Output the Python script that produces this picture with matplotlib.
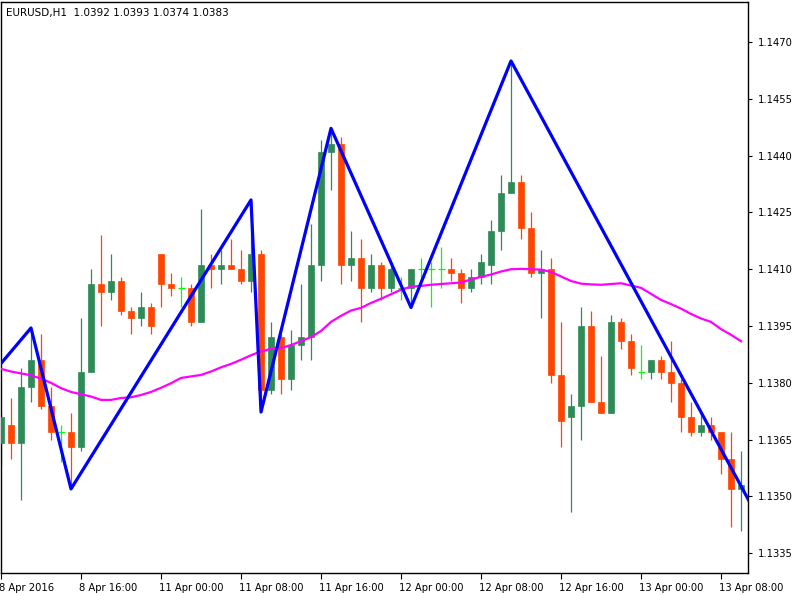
import matplotlib.pyplot as plt
import matplotlib.transforms as mtransforms

# hourly EURUSD bars, 8 Apr 08:00 .. 13 Apr 10:00 (weekend skipped)
opens = [1.1364, 1.1369, 1.1364, 1.1379, 1.1386, 1.1374, 1.1367, 1.1367, 1.1363, 1.1383,
         1.1406, 1.1404, 1.1407, 1.1399, 1.1397, 1.1400, 1.1414, 1.1406, 1.1405, 1.1405,
         1.1396, 1.1411, 1.1410, 1.1411, 1.1410, 1.1407, 1.1414, 1.1378, 1.1392, 1.1381,
         1.1390, 1.1392, 1.1411, 1.1441, 1.1443, 1.1411, 1.1413, 1.1405, 1.1411, 1.1405,
         1.1405, 1.1405, 1.1410, 1.1410, 1.1410, 1.1410, 1.1409, 1.1405, 1.1408, 1.1411,
         1.1420, 1.1430, 1.1433, 1.1421, 1.1409, 1.1410, 1.1382, 1.1371, 1.1374, 1.1395,
         1.1375, 1.1372, 1.1396, 1.1391, 1.1383, 1.1383, 1.1386, 1.1383, 1.1380, 1.1371,
         1.1367, 1.1369, 1.1367, 1.1360, 1.1352]
highs = [1.1372, 1.1376, 1.1384, 1.13945, 1.1393, 1.1379, 1.1369, 1.1372, 1.1397, 1.1410,
         1.1419, 1.1414, 1.1408, 1.1400, 1.1404, 1.1401, 1.1414, 1.1409, 1.1408, 1.1406,
         1.1426, 1.1414, 1.1415, 1.1418, 1.1415, 1.14283, 1.1415, 1.1396, 1.1393, 1.1394,
         1.1406, 1.1422, 1.1444, 1.14472, 1.1445, 1.1420, 1.1418, 1.1414, 1.1412, 1.1411,
         1.1408, 1.1410, 1.1413, 1.1412, 1.1416, 1.1413, 1.1410, 1.1410, 1.1414, 1.1423,
         1.1435, 1.14650, 1.1435, 1.1425, 1.1415, 1.1413, 1.1396, 1.1377, 1.1400, 1.1399,
         1.1387, 1.1398, 1.1397, 1.1393, 1.1390, 1.1386, 1.1387, 1.1391, 1.1381, 1.1375,
         1.1372, 1.1371, 1.1367, 1.1367, 1.1362]
lows = [1.1358, 1.1360, 1.1349, 1.1375, 1.1373, 1.1365, 1.1359, 1.1352, 1.1362, 1.1383,
        1.1395, 1.1402, 1.1398, 1.1393, 1.1395, 1.1393, 1.1400, 1.1403, 1.1400, 1.1395,
        1.1396, 1.1405, 1.1406, 1.1410, 1.1406, 1.1404, 1.13723, 1.1377, 1.1377, 1.1378,
        1.1386, 1.1386, 1.1407, 1.1431, 1.1406, 1.1407, 1.1396, 1.1404, 1.1402, 1.1404,
        1.1402, 1.13999, 1.1406, 1.1400, 1.1405, 1.1407, 1.1401, 1.1404, 1.1406, 1.1406,
        1.1415, 1.1430, 1.1418, 1.1408, 1.1397, 1.1380, 1.1363, 1.1346, 1.1365, 1.1375,
        1.1372, 1.1372, 1.1389, 1.1382, 1.1381, 1.1381, 1.1381, 1.1375, 1.1367, 1.1366,
        1.1366, 1.1365, 1.1356, 1.1342, 1.1341]
closes = [1.1371, 1.1364, 1.1379, 1.1386, 1.1374, 1.1367, 1.1367, 1.1363, 1.1383, 1.1406,
          1.1404, 1.1407, 1.1399, 1.1397, 1.1400, 1.1395, 1.1406, 1.1405, 1.1405, 1.1396,
          1.1411, 1.1410, 1.1411, 1.1410, 1.1407, 1.1414, 1.1378, 1.1392, 1.1381, 1.1390,
          1.1392, 1.1411, 1.1441, 1.1443, 1.1411, 1.1413, 1.1405, 1.1411, 1.1405, 1.1410,
          1.1405, 1.1410, 1.1410, 1.1410, 1.1410, 1.1409, 1.1405, 1.1408, 1.1412, 1.1420,
          1.1430, 1.1433, 1.1421, 1.1409, 1.1410, 1.1382, 1.1370, 1.1374, 1.1395, 1.1375,
          1.1372, 1.1396, 1.1391, 1.1384, 1.1383, 1.1386, 1.1383, 1.1380, 1.1371, 1.1367,
          1.1369, 1.1367, 1.1360, 1.1352, 1.1353]

# moving average (magenta)
ma = [1.13837, 1.13830, 1.13825, 1.13820, 1.13811, 1.13800, 1.13786, 1.13776, 1.13770, 1.13764,
      1.13755, 1.13755, 1.13760, 1.13762, 1.13768, 1.13776, 1.13787, 1.13799, 1.13813, 1.13817,
      1.13821, 1.13830, 1.13841, 1.13850, 1.13861, 1.13873, 1.13883, 1.13890, 1.13892, 1.13900,
      1.13910, 1.13921, 1.13937, 1.13961, 1.13977, 1.13991, 1.13998, 1.14011, 1.14022, 1.14034,
      1.14046, 1.14054, 1.14056, 1.14059, 1.14061, 1.14063, 1.14065, 1.14073, 1.14080, 1.14086,
      1.14094, 1.14100, 1.14101, 1.14100, 1.14099, 1.14093, 1.14081, 1.14069, 1.14062, 1.14060,
      1.14059, 1.14061, 1.14063, 1.14057, 1.14051, 1.14035, 1.14019, 1.14008, 1.13996, 1.13982,
      1.13970, 1.13961, 1.13942, 1.13927, 1.13910]

# zigzag turning points (bar index, price)
zz_bars = [-1, 3, 7, 25, 26, 33, 41, 51, 76]
zz_prices = [1.1382, 1.13945, 1.1352, 1.14283, 1.13723, 1.14472, 1.13999, 1.14650, 1.1343]

tick_bars = [0, 8, 16, 24, 32, 40, 48, 56, 64, 72]
tick_labels = ['8 Apr 2016', '8 Apr 16:00', '11 Apr 00:00', '11 Apr 08:00', '11 Apr 16:00',
               '12 Apr 00:00', '12 Apr 08:00', '12 Apr 16:00', '13 Apr 00:00', '13 Apr 08:00']
price_ticks = [1.1335, 1.1350, 1.1365, 1.1380, 1.1395, 1.1410, 1.1425, 1.1440, 1.1455, 1.1470]

bull = '#2E8B57'
bear = '#FF4500'
doji = '#00FF00'

fig = plt.figure(figsize=(7.95, 5.96), dpi=100)
ax = fig.add_axes([1 / 795, 23 / 596, 747 / 795, 571 / 596])

for i in range(len(opens)):
    o, h, l, c = opens[i], highs[i], lows[i], closes[i]
    if c > o:
        col = bull
    elif c < o:
        col = bear
    else:
        col = doji
    ax.vlines(i, l, h, color=col, linewidth=0.9, zorder=2)
    if c == o:
        ax.hlines(o, i - 0.35, i + 0.35, color=col, linewidth=0.9, zorder=2)
    else:
        ax.bar(i, abs(c - o), bottom=min(o, c), width=0.6, color=col,
               edgecolor=col, linewidth=0.5, zorder=3)

ax.plot(range(len(ma)), ma, color='#FF00FF', linewidth=1.6, zorder=4)
ax.plot(zz_bars, zz_prices, color='#0000FF', linewidth=2.3, zorder=5)

ax.set_xlim(0, 74.7)
ax.set_ylim(1.13298, 1.148056)

ax.set_xticks(tick_bars)
ax.set_xticklabels(tick_labels, ha='left', fontsize=7.2)
ax.set_yticks(price_ticks)
ax.set_yticklabels(['%.4f' % p for p in price_ticks], fontsize=7.2)
ax.yaxis.tick_right()
ax.tick_params(axis='x', length=4, pad=3, width=0.8)
ax.tick_params(axis='y', length=3, pad=4, width=0.8)

# MT4 puts the date text a touch left of its tick
shift = mtransforms.ScaledTranslation(-2 / 100, 0, fig.dpi_scale_trans)
for lab in ax.get_xticklabels():
    lab.set_transform(lab.get_transform() + shift)

for s in ax.spines.values():
    s.set_color('black')
    s.set_linewidth(1.0)

ax.text(0.007, 0.99, 'EURUSD,H1  1.0392 1.0393 1.0374 1.0383', transform=ax.transAxes,
        ha='left', va='top', fontsize=7.5)

fig.savefig('out.png', dpi=100)
